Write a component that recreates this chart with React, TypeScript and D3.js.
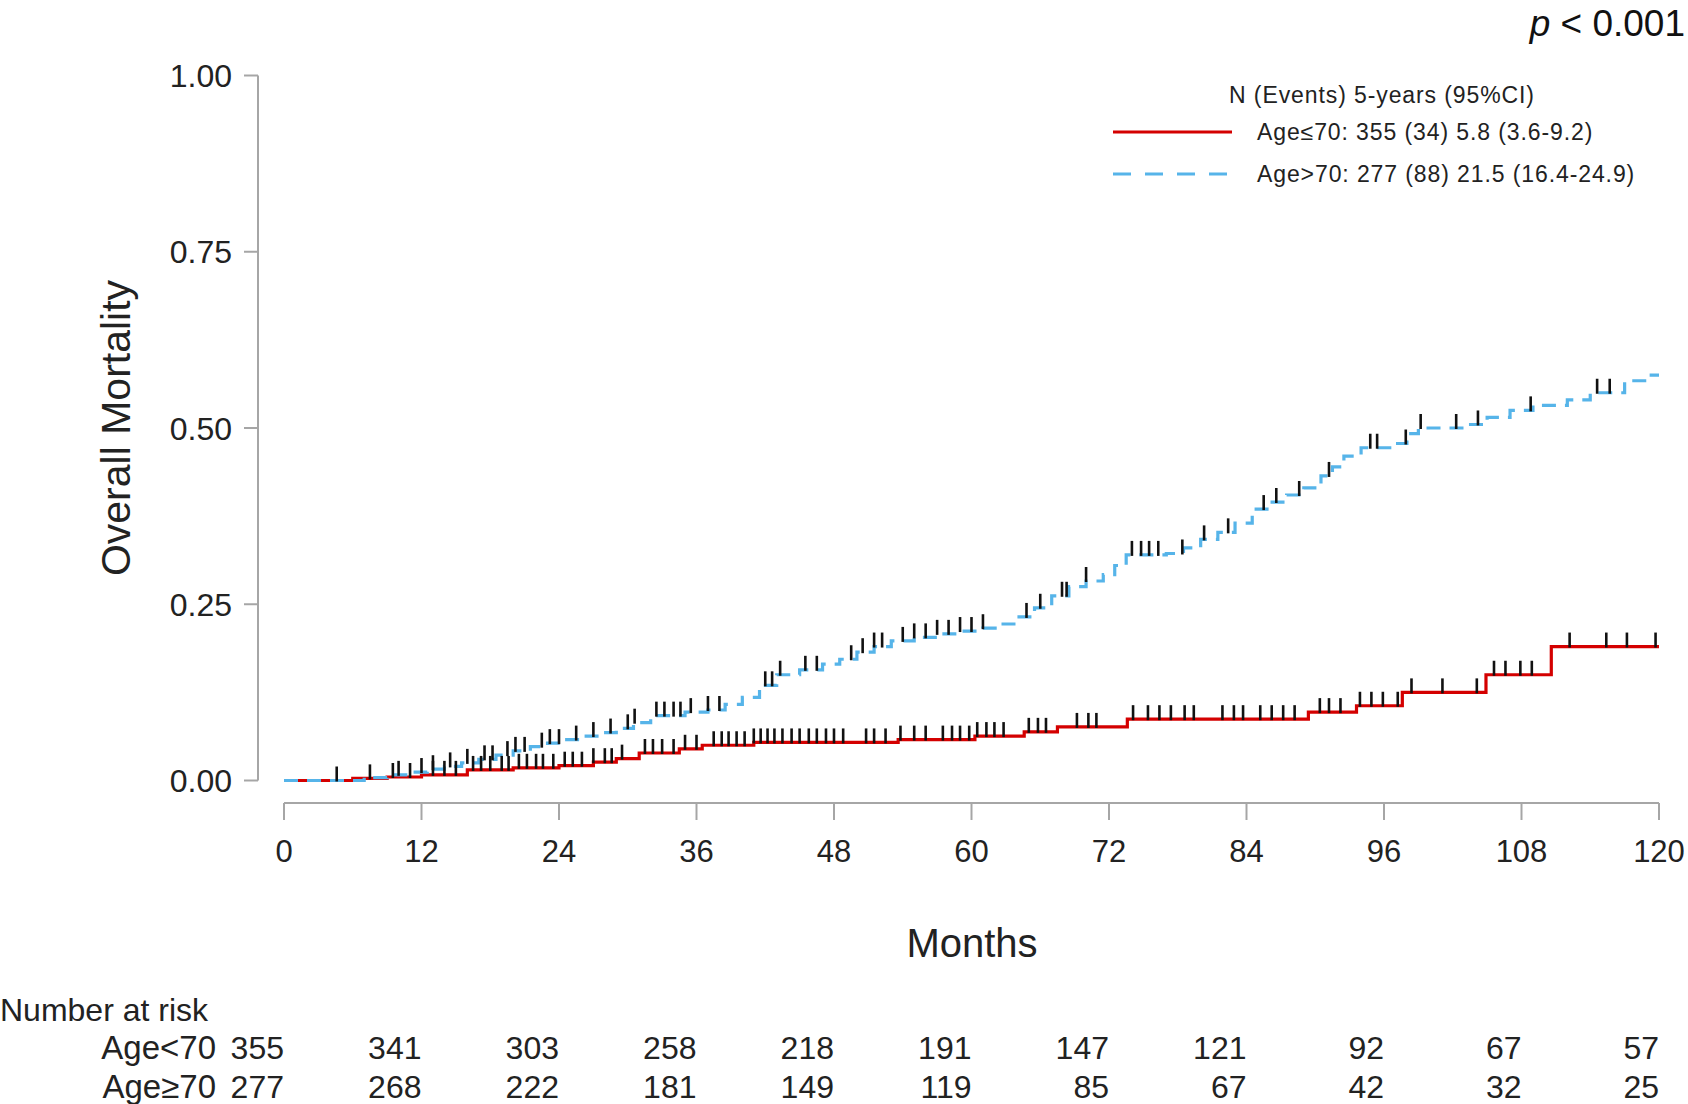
import React from "react";
import * as d3 from "d3";

// ---- data ----
const xTicks = [0, 12, 24, 36, 48, 60, 72, 84, 96, 108, 120];
const yTicks = [0, 0.25, 0.5, 0.75, 1.0];

const redTimes = [0, 6, 9, 12, 16, 20, 24, 27, 29, 31, 34.5, 36.5, 41, 53.6, 60.3, 64.6, 67.5, 73.6, 89.4, 93.6, 97.6, 104.9, 110.6];
const redVals = [0, 0.003, 0.005, 0.008, 0.015, 0.018, 0.021, 0.026, 0.031, 0.039, 0.045, 0.05, 0.054, 0.058, 0.063, 0.069, 0.076, 0.087, 0.097, 0.106, 0.125, 0.15, 0.19];

const blueTimes = [0, 7, 9, 11, 12.5, 14, 15.5, 17, 18.5, 20, 21.5, 23, 24.5, 26, 27.5, 29, 30.5, 32, 35, 37, 38.5, 40, 41.5, 43, 45, 47, 48.5, 50, 51.5, 53, 55, 57, 59, 61, 62.5, 64, 65.5, 67, 68.5, 70, 71.5, 72.5, 73.5, 77, 78.5, 80, 81.5, 83, 84.5, 86, 87.5, 89, 90.5, 91.5, 92.5, 94, 96.5, 98, 99, 103, 105, 107, 109, 112, 114, 117, 119];
const blueVals = [0, 0.004, 0.008, 0.012, 0.016, 0.02, 0.025, 0.03, 0.036, 0.042, 0.048, 0.053, 0.058, 0.063, 0.068, 0.074, 0.082, 0.092, 0.097, 0.1, 0.108, 0.118, 0.135, 0.15, 0.157, 0.165, 0.172, 0.182, 0.19, 0.198, 0.203, 0.208, 0.212, 0.216, 0.222, 0.232, 0.245, 0.262, 0.275, 0.283, 0.292, 0.305, 0.32, 0.322, 0.33, 0.342, 0.352, 0.365, 0.385, 0.395, 0.405, 0.415, 0.432, 0.445, 0.46, 0.472, 0.478, 0.492, 0.5, 0.505, 0.515, 0.525, 0.532, 0.54, 0.55, 0.567, 0.575];

const redCensor = [4.6, 7.5, 9.5, 11, 13, 14, 15, 16.5, 17.2, 18, 19, 19.6, 20.5, 21.2, 22, 22.6, 23.5, 24.5, 25.2, 26, 27, 28, 28.6, 29.5, 31.5, 32.2, 33, 34, 35, 36, 37.5, 38.2, 38.8, 39.5, 40.2, 41, 41.6, 42.2, 42.8,
  43.5, 44.3, 45, 45.8, 46.5, 47.3, 48, 48.8, 50.8, 51.5, 52.5, 53.8, 55, 56, 57.5, 58.3, 59, 59.8, 60.5, 61.3, 62, 62.8, 65, 65.8, 66.5, 69.2, 70.2, 70.9,
  74.1, 75.4, 76.4, 77.4, 78.6, 79.4, 81.9, 82.9, 83.7, 85.2, 86.2, 87.2, 88.2, 90.4, 91.2, 92.2, 93.9, 94.9, 95.9, 97.2, 98.4, 101.1, 104.1, 105.6, 106.6, 107.9, 108.9, 112.2, 115.4, 117.2, 119.7];
const blueCensor = [10, 12, 13, 14.5, 16, 17.5, 18.2, 19.5, 20.2, 21, 22.5, 23.2, 24, 25.5, 27, 28.5, 30, 30.6, 32.5, 33.2, 34, 34.6, 35.5, 37, 38, 42, 42.6, 43.3, 45.5, 46.5, 49.5, 50.5, 51.5, 52.2, 54, 55, 56, 57, 58, 59, 60, 61, 64.8, 66, 67.9, 68.3, 70,
  74, 74.8, 75.5, 76.3, 78.4, 80.3, 82.4, 85.5, 86.6, 88.6, 91.2, 94.8, 95.4, 97.9, 99.2, 102.3, 104.2, 108.8, 114.6, 115.7];

const riskTimes = [0, 12, 24, 36, 48, 60, 72, 84, 96, 108, 120];
const riskLow = [355, 341, 303, 258, 218, 191, 147, 121, 92, 67, 57];
const riskHigh = [277, 268, 222, 181, 149, 119, 85, 67, 42, 32, 25];

const groupLabels = ["Age<70", "Age\u226570"];
const legendLabels = ["Age\u226470: 355 (34) 5.8 (3.6-9.2)", "Age>70: 277 (88) 21.5 (16.4-24.9)"];

const RED = "#d40000";
const BLUE = "#56B4E9";
const FONT = "'Liberation Sans', Arial, Helvetica, sans-serif";

function stepValue(times: number[], vals: number[], t: number) {
  const i = d3.bisectRight(times, t) - 1;
  return vals[Math.max(0, i)];
}

export default function App() {
  const x = d3.scaleLinear().domain([0, 120]).range([284, 1659]);
  const y = d3.scaleLinear().domain([0, 1]).range([780.5, 75.5]);

  const line = d3
    .line<[number, number]>()
    .x((d) => x(d[0]))
    .y((d) => y(d[1]))
    .curve(d3.curveStepAfter);

  const redPts: [number, number][] = redTimes.map((t, i) => [t, redVals[i]] as [number, number]);
  redPts.push([120, redVals[redVals.length - 1]]);
  const bluePts: [number, number][] = blueTimes.map((t, i) => [t, blueVals[i]] as [number, number]);
  bluePts.push([120, blueVals[blueVals.length - 1]]);

  const axisY = 803;
  const axisColor = "#a6a6a6";

  return (
    <svg
      width={1688}
      height={1104}
      style={{ position: "absolute", left: 0, top: 0, background: "#fff" }}
      fontFamily={FONT}
    >
      <rect x={0} y={0} width={1688} height={1104} fill="#fff" />
      {/* y axis */}
      <line x1={258} x2={258} y1={y(0)} y2={y(1)} stroke={axisColor} strokeWidth={2} />
      {yTicks.map((t) => (
        <g key={"yt" + t}>
          <line x1={244} x2={258} y1={y(t)} y2={y(t)} stroke={axisColor} strokeWidth={2} />
          <text x={232} y={y(t)} dy="0.36em" textAnchor="end" fontSize={32} fill="#222">
            {t.toFixed(2)}
          </text>
        </g>
      ))}
      {/* x axis */}
      <line x1={x(0)} x2={x(120)} y1={axisY} y2={axisY} stroke={axisColor} strokeWidth={2} />
      {xTicks.map((t) => (
        <g key={"xt" + t}>
          <line x1={x(t)} x2={x(t)} y1={axisY} y2={axisY + 17} stroke={axisColor} strokeWidth={2} />
          <text x={x(t)} y={862} textAnchor="middle" fontSize={31} fill="#222">
            {t}
          </text>
        </g>
      ))}
      <text x={972} y={957} textAnchor="middle" fontSize={40} fill="#222">
        Months
      </text>
      <text
        transform={`translate(130, 428) rotate(-90)`}
        textAnchor="middle"
        fontSize={41}
        fill="#222"
      >
        Overall Mortality
      </text>

      {/* curves */}
      <path d={line(redPts) || ""} fill="none" stroke={RED} strokeWidth={3.2} />
      <path d={line(bluePts) || ""} fill="none" stroke={BLUE} strokeWidth={3.2} strokeDasharray="14 9" />

      {/* censor marks */}
      {redCensor.map((t, i) => {
        const v = stepValue(redTimes, redVals, t);
        return <line key={"rc" + i} x1={x(t)} x2={x(t)} y1={y(v) - 14} y2={y(v) + 1} stroke="#111" strokeWidth={2.6} />;
      })}
      {blueCensor.map((t, i) => {
        const v = stepValue(blueTimes, blueVals, t);
        return <line key={"bc" + i} x1={x(t)} x2={x(t)} y1={y(v) - 14} y2={y(v) + 1} stroke="#111" strokeWidth={2.6} />;
      })}

      {/* legend */}
      <text x={1382} y={95} dy="0.35em" textAnchor="middle" fontSize={23} letterSpacing={0.9} fill="#222">
        N (Events) 5-years (95%CI)
      </text>
      <line x1={1113} x2={1232} y1={132} y2={132} stroke={RED} strokeWidth={3.2} />
      <text x={1257} y={132} dy="0.35em" fontSize={23} letterSpacing={0.9} fill="#222">
        {legendLabels[0]}
      </text>
      <line x1={1113} x2={1232} y1={174} y2={174} stroke={BLUE} strokeWidth={3.2} strokeDasharray="18 14" />
      <text x={1257} y={174} dy="0.35em" fontSize={23} letterSpacing={0.9} fill="#222">
        {legendLabels[1]}
      </text>

      {/* p value */}
      <text x={1685} y={36} textAnchor="end" fontSize={37} fill="#111">
        <tspan fontStyle="italic">p</tspan> {"< 0.001"}
      </text>

      {/* risk table */}
      <text x={0} y={1021} fontSize={32} fill="#222">
        Number at risk
      </text>
      {[riskLow, riskHigh].map((row, r) => (
        <g key={"row" + r}>
          <text x={216} y={r === 0 ? 1059 : 1098} textAnchor="end" fontSize={33} fill="#222">
            {groupLabels[r]}
          </text>
          {row.map((n, i) => (
            <text key={i} x={x(riskTimes[i])} y={r === 0 ? 1059 : 1098} textAnchor="end" fontSize={32} fill="#222">
              {n}
            </text>
          ))}
        </g>
      ))}
    </svg>
  );
}
